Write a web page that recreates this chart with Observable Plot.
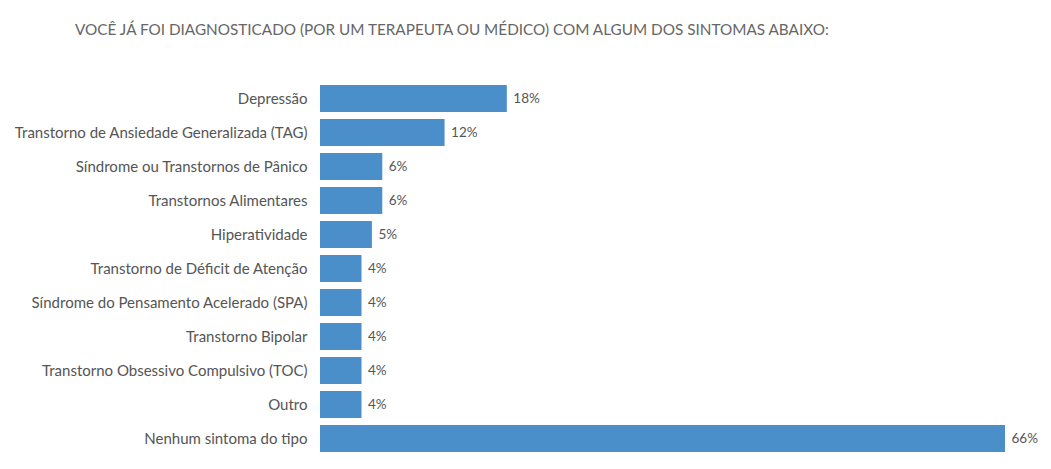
<!DOCTYPE html>
<html>
<head>
<meta charset="utf-8">
<script src="https://cdn.jsdelivr.net/npm/d3@7"></script>
<script src="https://cdn.jsdelivr.net/npm/@observablehq/plot@0.6"></script>
<style>
  body { margin: 0; background: #fff; font-family: Lato, "Open Sans", sans-serif; }
  #title { height: 60px; box-sizing: border-box; padding: 20px 0 0 75px; font-size: 15.3px; color: #666; }
</style>
</head>
<body>
<div id="title">VOCÊ JÁ FOI DIAGNOSTICADO (POR UM TERAPEUTA OU MÉDICO) COM ALGUM DOS SINTOMAS ABAIXO:</div>
<div id="chart"></div>
<script>
const categories = [
  "Depressão",
  "Transtorno de Ansiedade Generalizada (TAG)",
  "Síndrome ou Transtornos de Pânico",
  "Transtornos Alimentares",
  "Hiperatividade",
  "Transtorno de Déficit de Atenção",
  "Síndrome do Pensamento Acelerado (SPA)",
  "Transtorno Bipolar",
  "Transtorno Obsessivo Compulsivo (TOC)",
  "Outro",
  "Nenhum sintoma do tipo"
];
const values = [18, 12, 6, 6, 5, 4, 4, 4, 4, 4, 66];

const data = categories.map((c, i) => ({category: c, value: values[i]}));

const chart = Plot.plot({
  width: 1051,
  height: 409,
  marginLeft: 320,
  marginRight: 46,
  marginTop: 17,
  marginBottom: 9,
  style: {fontFamily: "Lato, 'Open Sans', sans-serif", fontSize: "15px", color: "#555"},
  x: {domain: [0, 66], axis: null},
  y: {domain: categories, padding: 0.2, label: null, tickSize: 0, tickPadding: 13},
  marks: [
    Plot.barX(data, {x: "value", y: "category", fill: "#4a8fca"}),
    Plot.text(data, {x: "value", y: "category", text: d => d.value + "%", textAnchor: "start", dx: 6, fill: "#555", fontSize: 13.5})
  ]
});
document.getElementById("chart").appendChild(chart);
</script>
</body>
</html>
